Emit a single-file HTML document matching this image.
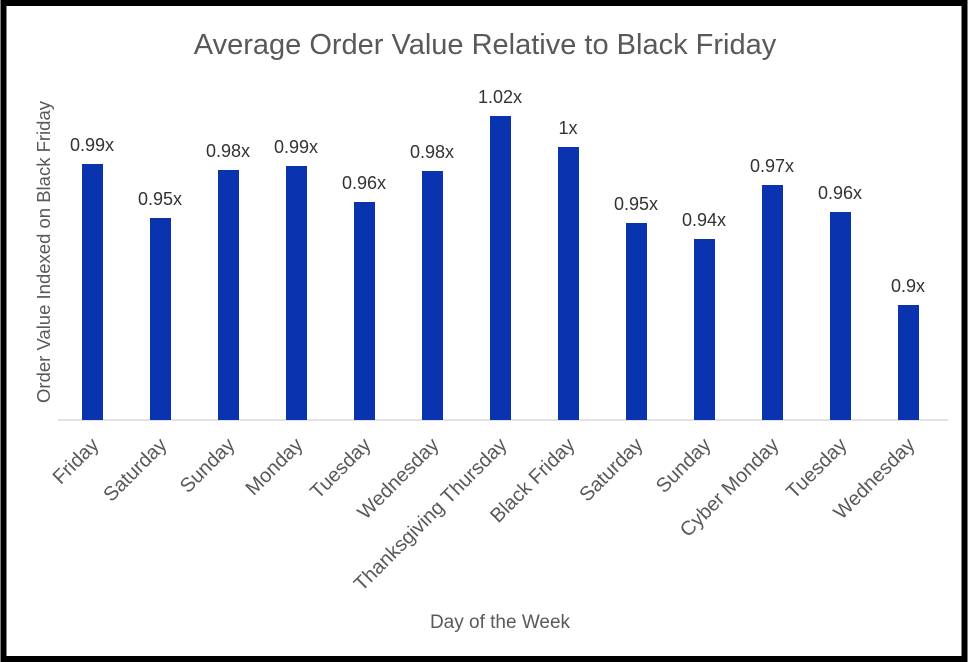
<!DOCTYPE html>
<html><head><meta charset="utf-8"><style>
html,body{margin:0;padding:0;background:#fff}
svg{display:block}
text{font-family:"Liberation Sans","DejaVu Sans",sans-serif}
</style></head><body>
<svg width="968" height="662" viewBox="0 0 968 662" xmlns="http://www.w3.org/2000/svg">
<rect x="0" y="0" width="968" height="662" fill="#fff"/>
<rect x="3.5" y="3" width="961" height="656" fill="none" stroke="#000" stroke-width="6"/>
<text x="485" y="54" text-anchor="middle" font-size="29" fill="#595959">Average Order Value Relative to Black Friday</text>
<text transform="translate(50,252) rotate(-90)" text-anchor="middle" font-size="18.5" fill="#595959">Order Value Indexed on Black Friday</text>
<text x="500" y="628" text-anchor="middle" font-size="19" fill="#595959">Day of the Week</text>
<line x1="58" y1="420" x2="948" y2="420" stroke="#d9d9d9" stroke-width="1.5"/>
<g fill="#0a33b0">
<rect x="82" y="164" width="21" height="256"/>
<rect x="150" y="218" width="21" height="202"/>
<rect x="218" y="170" width="21" height="250"/>
<rect x="286" y="166" width="21" height="254"/>
<rect x="354" y="202" width="21" height="218"/>
<rect x="422" y="171" width="21" height="249"/>
<rect x="490" y="116" width="21" height="304"/>
<rect x="558" y="147" width="21" height="273"/>
<rect x="626" y="223" width="21" height="197"/>
<rect x="694" y="239" width="21" height="181"/>
<rect x="762" y="185" width="21" height="235"/>
<rect x="830" y="212" width="21" height="208"/>
<rect x="898" y="305" width="21" height="115"/>
</g>
<g font-size="18" fill="#333" text-anchor="middle">
<text x="92" y="151">0.99x</text>
<text x="160" y="205">0.95x</text>
<text x="228" y="157">0.98x</text>
<text x="296" y="153">0.99x</text>
<text x="364" y="189">0.96x</text>
<text x="432" y="158">0.98x</text>
<text x="500" y="103">1.02x</text>
<text x="568" y="134">1x</text>
<text x="636" y="210">0.95x</text>
<text x="704" y="226">0.94x</text>
<text x="772" y="172">0.97x</text>
<text x="840" y="199">0.96x</text>
<text x="908" y="292">0.9x</text>
</g>
<g font-size="20" fill="#595959" text-anchor="end">
<text transform="translate(100,446) rotate(-45)">Friday</text>
<text transform="translate(168,446) rotate(-45)">Saturday</text>
<text transform="translate(236,446) rotate(-45)">Sunday</text>
<text transform="translate(304,446) rotate(-45)">Monday</text>
<text transform="translate(372,446) rotate(-45)">Tuesday</text>
<text transform="translate(440,446) rotate(-45)">Wednesday</text>
<text transform="translate(508,446) rotate(-45)">Thanksgiving Thursday</text>
<text transform="translate(576,446) rotate(-45)">Black Friday</text>
<text transform="translate(644,446) rotate(-45)">Saturday</text>
<text transform="translate(712,446) rotate(-45)">Sunday</text>
<text transform="translate(780,446) rotate(-45)">Cyber Monday</text>
<text transform="translate(848,446) rotate(-45)">Tuesday</text>
<text transform="translate(916,446) rotate(-45)">Wednesday</text>
</g>
</svg>
</body></html>
